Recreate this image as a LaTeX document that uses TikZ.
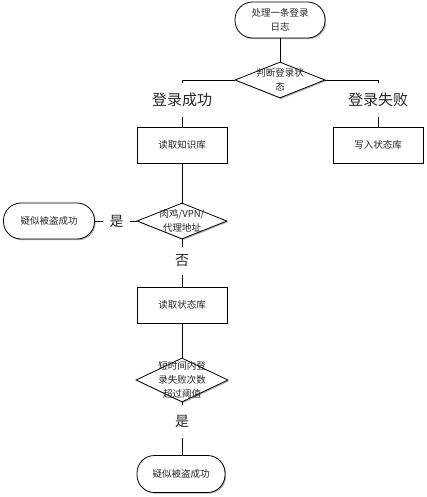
\documentclass[tikz,border=0pt]{standalone}
\usepackage{fontspec}
\setmainfont{Noto Sans CJK SC}
\usetikzlibrary{shapes.geometric,shadows}
\begin{document}
\begin{tikzpicture}[x=1pt,y=-1pt,line width=0.8pt,
  every node/.style={font=\fontsize{9.5}{14}\selectfont, text=black!85},
  shd/.style={drop shadow={shadow xshift=1.2pt, shadow yshift=-1.2pt, opacity=0.3, fill=black}},
  term/.style={draw, rectangle, rounded corners=17.5pt, minimum width=90pt, minimum height=36pt, inner sep=0pt, fill=white, shd, align=center},
  proc/.style={draw, rectangle, minimum width=90pt, minimum height=36pt, inner sep=0pt, fill=white, shd},
  dec/.style={draw, diamond, minimum width=90pt, minimum height=36pt, inner sep=0pt, fill=white, shd},
  big/.style={font=\fontsize{15}{18}\selectfont, inner sep=0pt},
  mid/.style={font=\fontsize{14}{16}\selectfont, inner sep=0pt}]
\useasboundingbox (0,0) rectangle (426,497);
\node[term] (start) at (280,20) {处理一条登录\\日志};
\node[dec, label={[align=center]center:{判断登录状\\态}}] (d1) at (280,80) {};
\node[big, minimum height=34pt] (ls) at (182,100) {登录成功};
\node[big, minimum height=34pt] (lf) at (378,100) {登录失败};
\node[proc] (kb) at (182,145) {读取知识库};
\node[proc] (ws) at (378,145) {写入状态库};
\node[dec, label={[align=center]center:{肉鸡/VPN/\\代理地址}}] (d2) at (182,221) {};
\node[term, minimum width=91pt] (t1) at (49,221) {疑似被盗成功};
\node[mid, minimum width=27pt] (yes1) at (116.5,221) {是};
\node[mid, minimum height=28pt] (no1) at (182,261) {否};
\node[proc] (sb) at (182,305) {读取状态库};
\node[dec, minimum width=92pt, minimum height=44pt, label={[align=center]center:{短时间内登\\录失败次数\\超过阈值}}] (d3) at (182,380) {};
\node[mid, minimum height=33pt] (yes2) at (182,421.5) {是};
\node[term, minimum width=88pt, minimum height=37pt] (t2) at (181,474) {疑似被盗成功};
\draw (start.south) -- (d1.north);
\draw (d1.west) -| (ls.north);
\draw (d1.east) -| (lf.north);
\draw (ls.south) -- (kb.north);
\draw (lf.south) -- (ws.north);
\draw (kb.south) -- (d2.north);
\draw (d2.west) -- (yes1.east);
\draw (yes1.west) -- (t1.east);
\draw (d2.south) -- (no1.north);
\draw (no1.south) -- (sb.north);
\draw (sb.south) -- (d3.north);
\draw (d3.south) -- (yes2.north);
\draw (yes2.south) -- (t2.north -| yes2.south);
\end{tikzpicture}
\end{document}
